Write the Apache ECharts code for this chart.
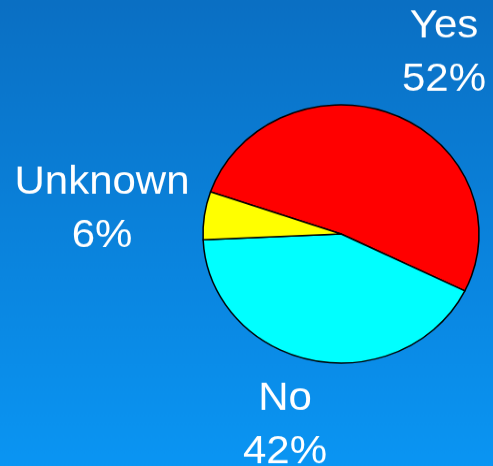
<!DOCTYPE html>
<html>
<head>
<meta charset="utf-8">
<script src="https://cdn.jsdelivr.net/npm/echarts@6/dist/echarts.min.js"></script>
<style>
  html, body { margin: 0; padding: 0; overflow: hidden; }
  /* the source slide is squashed vertically a little, so the chart is too */
  #chart { width: 493px; height: 498px; transform: scale(1, 0.9357); transform-origin: 0 0; }
</style>
</head>
<body>
<div id="chart"></div>
<script>
// answers and their share in percent
var answers = ['Yes', 'No', 'Unknown'];
var shares = [52, 42, 6];
var sliceColors = ['#ff0000', '#00ffff', '#ffff00'];

// where each label block sits (centre), by answer index
var labelSpots = [[444, 57], [285, 455], [102, 224]];

var chart = echarts.init(document.getElementById('chart'));

var pieData = [];
for (var i = 0; i < answers.length; i++) {
  pieData.push({ name: answers[i], value: shares[i], itemStyle: { color: sliceColors[i] } });
}

chart.setOption({
  backgroundColor: {
    type: 'linear', x: 0, y: 0, x2: 0, y2: 1,
    colorStops: [{ offset: 0, color: '#0a6fc3' }, { offset: 1, color: '#0a95f3' }]
  },
  animation: false,
  series: [{
    type: 'pie',
    center: [341, 250],
    radius: 138,
    startAngle: 161,
    clockwise: true,
    avoidLabelOverlap: false,
    itemStyle: { borderColor: '#000', borderWidth: 1.5 },
    label: {
      show: true,
      position: 'outside',
      color: '#fff',
      fontFamily: 'Liberation Sans, Arial, sans-serif',
      fontSize: 42,
      lineHeight: 57,
      align: 'center',
      formatter: function (p) { return p.name + '\n' + p.value + '%'; }
    },
    labelLine: { show: false },
    labelLayout: function (params) {
      var spot = labelSpots[params.dataIndex];
      return { x: spot[0], y: spot[1], align: 'center', verticalAlign: 'middle' };
    },
    emphasis: { disabled: true },
    data: pieData
  }]
});
</script>
</body>
</html>
